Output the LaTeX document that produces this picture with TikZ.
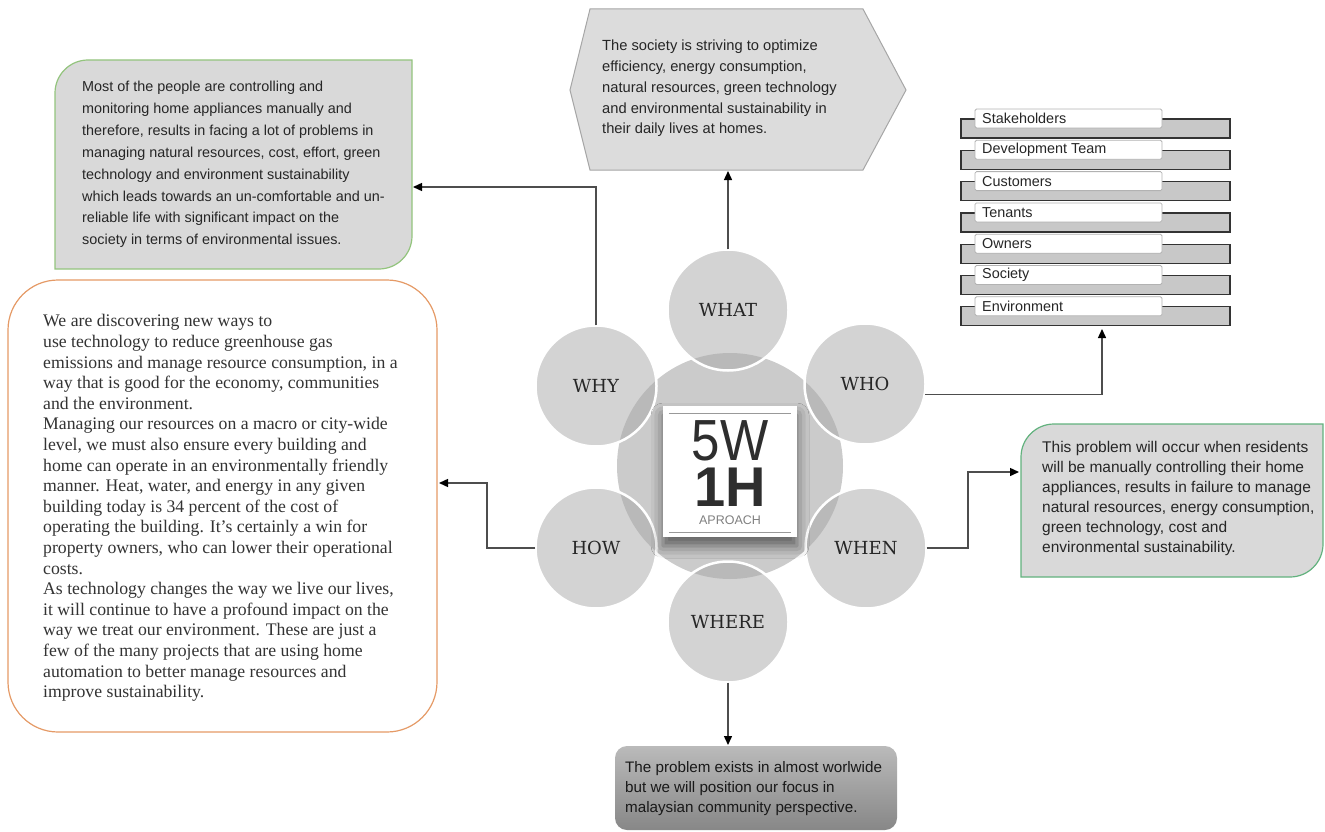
\documentclass[tikz,border=0pt]{standalone}
\usepackage{fontspec}
\setmainfont{Liberation Sans}
\newfontfamily\serifA{Liberation Serif}
\newfontfamily\slab{DejaVu Serif}
\usetikzlibrary{arrows.meta,shadows.blur}
\definecolor{linec}{HTML}{4D4D4D}
\definecolor{boxfill}{HTML}{D9D9D9}
\definecolor{greenA}{HTML}{93C47D}
\definecolor{greenB}{HTML}{62B27E}
\definecolor{orangeA}{HTML}{E59A66}
\definecolor{hexfill}{HTML}{DCDCDC}
\definecolor{hexline}{HTML}{A6A6A6}
\definecolor{satfill}{HTML}{D3D3D3}
\definecolor{bigfill}{HTML}{CBCBCB}
\definecolor{ovfill}{HTML}{B9B9B9}
\definecolor{txt}{HTML}{262626}
\definecolor{bartop}{HTML}{C8C8C8}
\begin{document}
\begin{tikzpicture}[x=1pt,y=-1pt,
  conn/.style={draw=linec, line width=1.4pt, -{Triangle[length=9pt,width=8pt,color=black]}},
  sat/.style={circle, minimum size=121pt, inner sep=0pt, fill=satfill, text=txt,
              font=\slab\fontsize{18}{20}\selectfont},
  satring/.style={draw=white, line width=2.5pt},
  sanstext/.style={anchor=west, inner sep=0pt, align=left, text=txt},
  listtext/.style={anchor=west, inner sep=0pt, text=txt, font=\fontsize{14.4}{16}\selectfont},
  wbox/.style={draw=black!30, fill=white, rounded corners=1.5pt, line width=0.8pt,
               minimum width=187pt, minimum height=19pt, inner sep=0pt},
  barbox/.style={draw=black!80, fill=bartop, line width=1.2pt}
]
\useasboundingbox (0,0) rectangle (1325,832);

% ---------- top hexagon (WHAT) ----------
\draw[fill=hexfill, draw=hexline, line width=1pt]
  (590,9) -- (863,9) -- (906,90) -- (863,170) -- (590,170) -- (570,90) -- cycle;
\node[sanstext, font=\fontsize{14.7}{20.8}\selectfont] (whattxt) at (602,88.5)
  {The society is striving to optimize\\
   efficiency, energy consumption,\\
   natural resources, green technology\\
   and environmental sustainability in\\
   their daily lives at homes.};
\coordinate (hexbot) at (728,171);

% ---------- green box (WHY) ----------
\draw[greenA, fill=boxfill, line width=1.2pt]
  (88,60) -- (412,60) -- (412,236) .. controls (412,254.2) and (397.2,269) .. (379,269)
  -- (55,269) -- (55,93) .. controls (55,74.8) and (69.8,60) .. (88,60) -- cycle;
\node[sanstext, font=\fontsize{14.4}{21.9}\selectfont] (whytxt) at (82,164.5)
  {Most of the people are controlling and\\
   monitoring home appliances manually and\\
   therefore, results in facing a lot of problems in\\
   managing natural resources, cost, effort, green\\
   technology and environment sustainability\\
   which leads towards an un-comfortable and un-\\
   reliable life with significant impact on the\\
   society in terms of environmental issues.};
\coordinate (whyend) at (413,187);

% ---------- orange box (HOW) ----------
\draw[orangeA, fill=white, line width=1.2pt, rounded corners=50pt] (8,280) rectangle (437,732);
\node[sanstext, font=\serifA\fontsize{17.7}{20.6}\selectfont, text=black!80] (howtxt) at (43,508)
  {We are discovering new ways to\\
   use technology to reduce greenhouse gas\\
   emissions and manage resource consumption, in a\\
   way that is good for the economy, communities\\
   and the environment.\\
   Managing our resources on a macro or city-wide\\
   level, we must also ensure every building and\\
   home can operate in an environmentally friendly\\
   manner. Heat, water, and energy in any given\\
   building today is 34 percent of the cost of\\
   operating the building. It’s certainly a win for\\
   property owners, who can lower their operational\\
   costs.\\
   As technology changes the way we live our lives,\\
   it will continue to have a profound impact on the\\
   way we treat our environment. These are just a\\
   few of the many projects that are using home\\
   automation to better manage resources and\\
   improve sustainability.};
\coordinate (howend) at (439,483);
\coordinate (howknee) at (487,548);

% ---------- stakeholder list (WHO) ----------
\foreach \name [count=\i from 0] in {Stakeholders,Development Team,Customers,Tenants,Owners,Society,Environment}{
  \pgfmathsetmacro\t{109+31.3*\i}
  \draw[barbox] (961,\t+10) rectangle (1230,\t+29);
  \node[wbox] (sh\i) at (1068.5,\t+9.5) {};
  \node[listtext] (shtxt\i) at (982,\t+9.5) {\name};
}
\coordinate (whoend) at (1102,329);

% ---------- green box (WHEN) ----------
\draw[greenB, fill=boxfill, line width=1.2pt]
  (1054,424) -- (1323,424) -- (1323,544) .. controls (1323,562.2) and (1308.2,577) .. (1290,577)
  -- (1021,577) -- (1021,457) .. controls (1021,438.8) and (1035.8,424) .. (1054,424) -- cycle;
\node[sanstext, font=\fontsize{15.5}{20}\selectfont] (whentxt) at (1042,498.5)
  {This problem will occur when residents\\
   will be manually controlling their home\\
   appliances, results in failure to manage\\
   natural resources, energy consumption,\\
   green technology, cost and\\
   environmental sustainability.};
\coordinate (whenend) at (1019,472);
\coordinate (whenknee) at (968,548);

% ---------- bottom box (WHERE) ----------
\shade[top color=black!27, bottom color=black!47, rounded corners=12pt] (615,746) rectangle (897,830);
\node[sanstext, font=\fontsize{15.2}{20}\selectfont, text=black!90] (wheretxt) at (625,788.5)
  {The problem exists in almost worlwide\\
   but we will position our focus in\\
   malaysian community perspective.};
\coordinate (whereend) at (728,745);

% ---------- central graphic ----------
\node[circle, fill=bigfill, minimum size=226pt, inner sep=0pt] (core) at (730,466) {};
\node[sat] (what)  at (728,310) {WHAT};
\node[sat] (why)   at (596,386) {WHY};
\node[sat] (who)   at (865,384) {WHO};
\node[sat] (how)   at (596,548) {HOW};
\node[sat] (when)  at (866,548) {WHEN};
\node[sat] (where) at (728,622) {WHERE};
\begin{scope}
  \clip (730,466) circle (113);
  \foreach \s in {what,why,who,how,when,where}{
    \fill[ovfill] (\s.center) circle (60.5);
  }
\end{scope}
\foreach \s in {what,why,who,how,when,where}{
  \draw[satring] (\s.center) circle (60.5);
}
\node[fill=white, minimum width=134pt, minimum height=131pt, inner sep=0pt,
      blur shadow={shadow xshift=0pt, shadow yshift=-9pt, shadow blur radius=12pt, shadow opacity=55}]
      (logo) at (730,471.5) {};
\draw[black!40, line width=1.2pt] ([xshift=6pt,yshift=-8pt]logo.north west) -- ([xshift=-6pt,yshift=-8pt]logo.north east);
\draw[black!40, line width=1.2pt] ([xshift=6pt,yshift=5pt]logo.south west) -- ([xshift=-6pt,yshift=5pt]logo.south east);
\node[inner sep=0pt, text=black!82] (logotxt) at (730,472.9)
  {\vbox{\offinterlineskip
     \hbox to 120pt{\hfil\fontsize{58}{58}\selectfont\scalebox{0.88}[1]{5W}\hfil}
     \kern6.5pt
     \hbox to 120pt{\hfil\bfseries\fontsize{56}{56}\selectfont 1H\hfil}
     \kern9.5pt
     \hbox to 120pt{\hfil\color{black!50}\fontsize{12.5}{13}\selectfont APROACH\hfil}}};

% ---------- connectors ----------
\draw[conn] (what.north) -- (hexbot);
\draw[conn] (why.north) |- (whyend);
\draw[conn] (who.-10) -| (whoend);
\draw[conn] (how.west) -- (howknee) |- (howend);
\draw[conn] (when.east) -- (whenknee) |- (whenend);
\draw[conn] (where.south) -- (whereend);
\end{tikzpicture}
\end{document}
